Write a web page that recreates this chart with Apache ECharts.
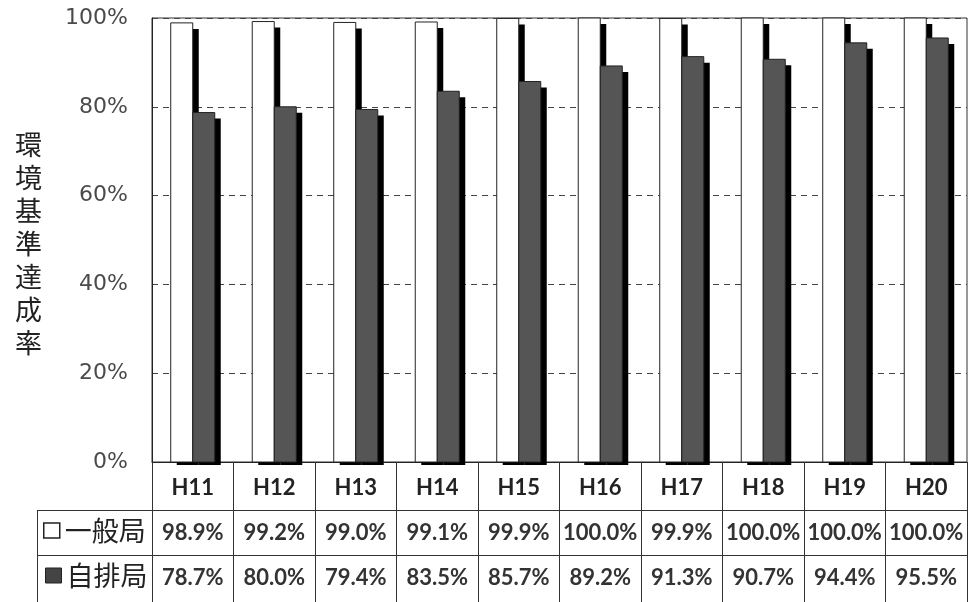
<!DOCTYPE html>
<html>
<head>
<meta charset="utf-8">
<script src="https://cdn.jsdelivr.net/npm/echarts@6/dist/echarts.min.js"></script>
<style>
  html, body { margin: 0; padding: 0; background: #fff; }
  #chart { width: 968px; height: 602px; }
</style>
</head>
<body>
<div id="chart"></div>
<script>
const years = ['H11', 'H12', 'H13', 'H14', 'H15', 'H16', 'H17', 'H18', 'H19', 'H20'];
const generalRates = [98.9, 99.2, 99.0, 99.1, 99.9, 100.0, 99.9, 100.0, 100.0, 100.0];
const roadsideRates = [78.7, 80.0, 79.4, 83.5, 85.7, 89.2, 91.3, 90.7, 94.4, 95.5];
const yTicks = [0, 20, 40, 60, 80, 100];

const chartBlock = document.getElementById('chart');
const chart = echarts.init(chartBlock);

// bar with a hard black drop shadow, like the old spreadsheet chart
const shadowBar = (slot, fill) => (params, api) => {
  const idx = api.value(0);
  const top = api.coord([idx, api.value(1)]);
  const base = api.coord([idx, 0]);
  const bw = api.size([1, 0])[0] * 0.27;
  const x = top[0] + (slot === 0 ? -bw : 0);
  const h = base[1] - top[1];
  return {
    type: 'group',
    children: [
      {
        type: 'rect',
        shape: { x: x + 6, y: top[1] + 6, width: bw, height: h - 3 },
        style: { fill: '#000' },
      },
      {
        type: 'rect',
        shape: { x: x, y: top[1], width: bw, height: h },
        style: { fill: fill, stroke: '#222', lineWidth: 1 },
      },
    ],
  };
};

const legendText = {
  fontFamily: 'Noto Sans CJK JP',
  fontSize: 27,
  color: '#222',
};

const option = {
  animation: false,
  textStyle: { fontFamily: 'Lato' },
  grid: [
    {
      left: 152,
      right: 1,
      top: 18,
      bottom: 140,
      show: true,
      borderColor: '#333',
      borderWidth: 1,
    },
    {
      left: 152,
      right: 1,
      top: 462,
      bottom: 0,
    },
  ],
  legend: [
    {
      left: 43,
      top: 517,
      padding: 0,
      itemWidth: 16,
      itemHeight: 15,
      icon: 'rect',
      data: [{ name: '一般局', itemStyle: { color: '#fff', borderColor: '#222', borderWidth: 1.5 } }],
      textStyle: legendText,
    },
    {
      left: 45,
      top: 562,
      padding: 0,
      itemWidth: 16,
      itemHeight: 15,
      icon: 'rect',
      data: [{ name: '自排局', itemStyle: { color: '#444', borderColor: '#222', borderWidth: 1 } }],
      textStyle: legendText,
    },
  ],
  xAxis: [
    {
      type: 'category',
      gridIndex: 0,
      data: years,
      axisLine: { lineStyle: { color: '#222' } },
      axisTick: {
        show: true,
        inside: false,
        length: 140,
        lineStyle: { color: '#333' },
      },
      axisLabel: {
        interval: 0,
        margin: 15,
        fontSize: 22,
        fontWeight: 'bold',
        color: '#222',
      },
    },
    {
      type: 'category',
      gridIndex: 1,
      position: 'top',
      data: years,
      axisLine: { show: false },
      axisTick: { show: false },
      axisLabel: {
        inside: true,
        interval: 0,
        margin: 60,
        fontSize: 22,
        fontWeight: 'bold',
        color: '#333',
        formatter: (v, i) => generalRates[i].toFixed(1) + '%',
      },
    },
    {
      type: 'category',
      gridIndex: 1,
      position: 'bottom',
      data: years,
      axisLine: { show: false },
      axisTick: { show: false },
      axisLabel: {
        inside: true,
        interval: 0,
        margin: 13,
        fontSize: 22,
        fontWeight: 'bold',
        color: '#333',
        formatter: (v, i) => roadsideRates[i].toFixed(1) + '%',
      },
    },
  ],
  yAxis: [
    {
      type: 'value',
      gridIndex: 0,
      min: yTicks[0],
      max: yTicks[yTicks.length - 1],
      interval: 20,
      axisLine: { show: true, lineStyle: { color: '#222' } },
      axisTick: { show: false },
      axisLabel: {
        margin: 24,
        fontFamily: 'DejaVu Sans',
        fontSize: 22,
        color: '#4a4a4a',
        formatter: '{value}%',
      },
      splitLine: {
        show: true,
        lineStyle: { color: '#444', type: [6, 5], width: 1 },
      },
    },
    {
      type: 'value',
      gridIndex: 1,
      show: false,
    },
  ],
  graphic: [
    {
      type: 'text',
      left: 15,
      top: 128,
      style: {
        text: '環\n境\n基\n準\n達\n成\n率',
        font: '27px "Noto Sans CJK JP"',
        lineHeight: 33,
        fill: '#222',
      },
    },
    {
      type: 'line',
      shape: { x1: 37, y1: 510.5, x2: 967, y2: 510.5 },
      style: { stroke: '#333', lineWidth: 1 },
    },
    {
      type: 'line',
      shape: { x1: 37, y1: 555.5, x2: 967, y2: 555.5 },
      style: { stroke: '#333', lineWidth: 1 },
    },
    {
      type: 'line',
      shape: { x1: 37.5, y1: 510, x2: 37.5, y2: 602 },
      style: { stroke: '#333', lineWidth: 1 },
    },
  ],
  series: [
    {
      name: '一般局',
      type: 'custom',
      xAxisIndex: 0,
      yAxisIndex: 0,
      itemStyle: { color: '#fff' },
      renderItem: shadowBar(0, '#fff'),
      encode: { x: 0, y: 1 },
      data: generalRates.map((v, i) => [i, v]),
    },
    {
      name: '自排局',
      type: 'custom',
      xAxisIndex: 0,
      yAxisIndex: 0,
      itemStyle: { color: '#555' },
      renderItem: shadowBar(1, '#555'),
      encode: { x: 0, y: 1 },
      data: roadsideRates.map((v, i) => [i, v]),
    },
  ],
};

chart.setOption(option);
window.addEventListener('resize', () => chart.resize());
</script>
</body>
</html>
